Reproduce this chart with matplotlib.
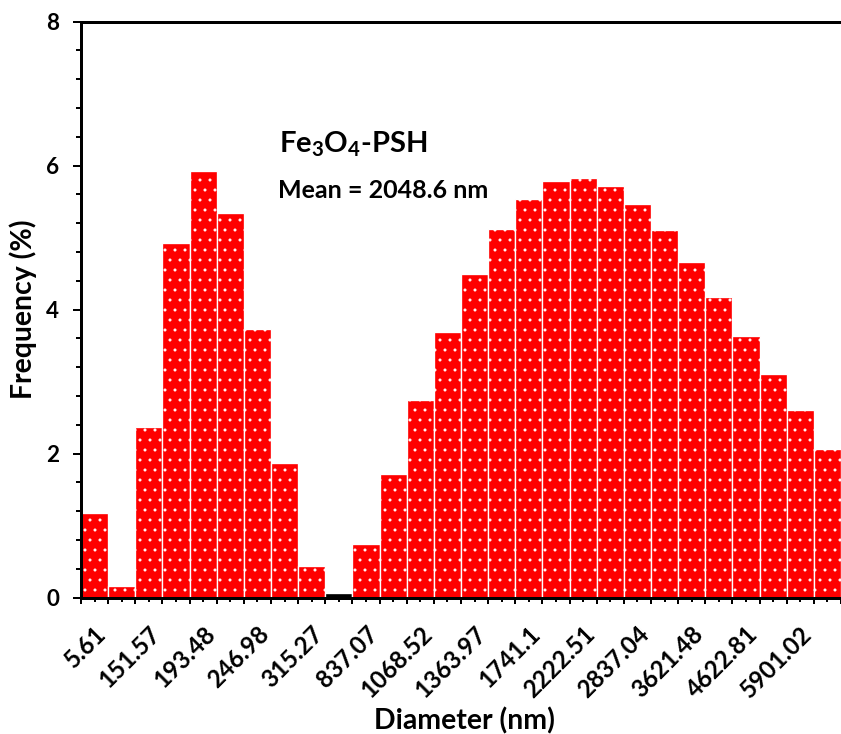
import numpy as np
import matplotlib
matplotlib.use("Agg")
import matplotlib.pyplot as plt
from matplotlib.ticker import MultipleLocator
from matplotlib.transforms import ScaledTranslation

plt.rcParams['font.family'] = ['Lato', 'DejaVu Sans']
plt.rcParams['font.weight'] = 'bold'
plt.rcParams['hatch.linewidth'] = 0.6

# size distribution (frequency %) for 28 diameter bins
freq = [1.17, 0.16, 2.37, 4.92, 5.93, 5.34, 3.73, 1.87, 0.44, 0.06,
        0.74, 1.72, 2.74, 3.69, 4.49, 5.12, 5.54, 5.79, 5.83, 5.72,
        5.47, 5.10, 4.66, 4.17, 3.64, 3.10, 2.60, 2.07]
# every second bin is labelled
bin_labels = ["5.61", "151.57", "193.48", "246.98", "315.27", "837.07",
              "1068.52", "1363.97", "1741.1", "2222.51", "2837.04",
              "3621.48", "4622.81", "5901.02"]
dark_bins = [9]

DPI = 120
fig = plt.figure(figsize=(841 / DPI, 734 / DPI), dpi=DPI)
ax = fig.add_axes([81 / 841, 1 - 597.5 / 734, 1 - 81 / 841, (597.5 - 21.7) / 734])

n = len(freq)
colors = ["black" if i in dark_bins else "#ff0000" for i in range(n)]
ax.bar(np.arange(n), freq, width=1.0, align="edge", color=colors,
       edgecolor="white", linewidth=0.8, hatch="..")

ax.set_xlim(0, n)
ax.set_ylim(0, 8)

# bin edges get major ticks, bin centres minor ticks
ax.set_xticks(np.arange(n + 1))
ax.set_xticklabels([])
centers = np.arange(n) + 0.5
ax.set_xticks(centers, minor=True)
ax.set_xticklabels([], minor=True)
ax.tick_params(axis="x", which="major", direction="out", length=3.5, width=1.2)
ax.tick_params(axis="x", which="minor", direction="out", length=2.5, width=1.2)

# rotated labels on alternate bins, nudged to sit just right of the bin centre
label_tr = ax.get_xaxis_transform() + ScaledTranslation(8 / DPI, -33 / DPI,
                                                        fig.dpi_scale_trans)
for c, lab in zip(centers[::2], bin_labels):
    ax.text(c, 0, lab, transform=label_tr, rotation=45, ha="right",
            va="center", rotation_mode="anchor", fontsize=14.5,
            fontweight="bold", clip_on=False)

ax.yaxis.set_major_locator(MultipleLocator(2))
ax.yaxis.set_minor_locator(MultipleLocator(0.4))
ax.tick_params(axis="y", which="major", direction="out", length=5, width=1.2,
               labelsize=13.5, pad=8)
ax.tick_params(axis="y", which="minor", direction="out", length=3, width=1.2)
for lab in ax.get_yticklabels():
    lab.set_fontweight("bold")

for side in ("left", "top", "bottom"):
    ax.spines[side].set_linewidth(1.8)
ax.spines["right"].set_visible(False)

fig.text(23 / 841, 1 - 309 / 734, "Frequency (%)", rotation=90, ha="center",
         va="center", fontsize=17, fontweight="bold")
fig.text(464 / 841, 1 - 729 / 734, "Diameter (nm)", ha="center",
         va="baseline", fontsize=17, fontweight="bold")

fig.text(279 / 841, 1 - 152 / 734, r"Fe$_\mathregular{3}$O$_\mathregular{4}$-PSH",
         ha="left", va="baseline", fontsize=17.5, fontweight="bold")
fig.text(278 / 841, 1 - 198 / 734, "Mean = 2048.6 nm", ha="left",
         va="baseline", fontsize=15, fontweight="bold")

fig.savefig("out.png", dpi=DPI, facecolor="white")
